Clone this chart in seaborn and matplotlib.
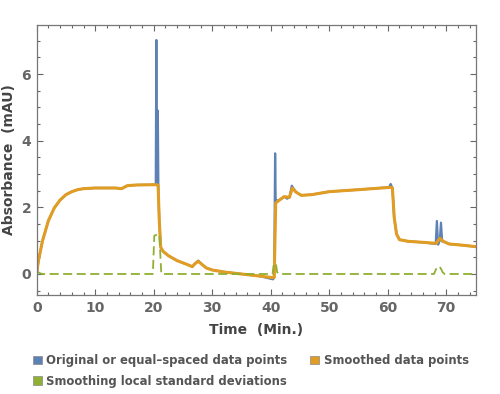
import matplotlib
matplotlib.use("Agg")
import matplotlib.pyplot as plt
import seaborn as sns
import numpy as np
import pandas as pd
from matplotlib.patches import Patch
from matplotlib.ticker import MultipleLocator

# ---- data ----
t_smooth = [0.0, 0.3, 1.0, 2.0, 3.0, 4.0, 5.0, 6.0, 7.0, 8.0, 10.0, 13.5, 14.5, 15.5, 17.0,
            20.5, 20.75, 20.95, 21.2, 21.6, 22.5, 24.0, 25.5, 26.6, 27.0, 27.6, 28.3, 29.0,
            30.0, 32.0, 35.0, 38.0, 40.4, 40.6, 40.85, 41.5, 42.3, 43.2, 43.7, 44.3, 45.2,
            47.0, 50.0, 55.0, 60.5, 60.8, 61.1, 61.5, 62.0, 63.5, 66.0, 68.3, 68.9, 69.5,
            70.5, 73.0, 75.0]
y_smooth = [0.05, 0.4, 1.0, 1.6, 1.98, 2.22, 2.38, 2.47, 2.53, 2.56, 2.58, 2.58, 2.56, 2.65, 2.67,
            2.68, 2.66, 1.6, 0.8, 0.68, 0.55, 0.40, 0.30, 0.22, 0.30, 0.38, 0.28, 0.18,
            0.12, 0.06, 0.0, -0.06, -0.11, -0.10, 2.13, 2.22, 2.32, 2.30, 2.58, 2.46, 2.36,
            2.38, 2.47, 2.53, 2.60, 2.58, 1.7, 1.2, 1.03, 0.98, 0.95, 0.92, 1.07, 0.98,
            0.90, 0.86, 0.82]

t_orig = [0.0, 0.3, 1.0, 2.0, 3.0, 4.0, 5.0, 6.0, 7.0, 8.0, 10.0, 13.5, 14.5, 15.5, 17.0,
          20.35, 20.45, 20.55, 20.7, 20.8, 20.95, 21.2, 21.6, 22.5, 24.0, 25.5, 26.6, 27.0,
          27.6, 28.3, 29.0, 30.0, 32.0, 35.0, 38.0, 40.4, 40.6, 40.75, 40.85, 40.95, 41.5,
          42.3, 42.8, 43.2, 43.6, 44.3, 45.2, 47.0, 50.0, 55.0, 60.2, 60.5, 60.8, 61.1,
          61.5, 62.0, 63.5, 66.0, 68.2, 68.4, 68.6, 68.9, 69.1, 69.3, 69.7, 70.5, 73.0, 75.0]
y_orig = [0.0, 0.4, 1.0, 1.6, 1.98, 2.22, 2.38, 2.47, 2.53, 2.56, 2.58, 2.58, 2.56, 2.65, 2.67,
          2.68, 7.02, 2.7, 4.9, 2.5, 1.6, 0.8, 0.68, 0.55, 0.40, 0.30, 0.22, 0.30,
          0.40, 0.28, 0.18, 0.12, 0.06, 0.0, -0.06, -0.16, -0.10, 3.62, 2.1, 2.2, 2.22,
          2.32, 2.26, 2.30, 2.65, 2.46, 2.36, 2.38, 2.47, 2.53, 2.60, 2.70, 2.58, 1.7,
          1.2, 1.03, 0.98, 0.95, 0.90, 1.59, 0.88, 1.0, 1.54, 0.98, 0.96, 0.90, 0.86, 0.82]

t_std = [0.0, 0.6, 1.0, 19.85, 20.1, 20.95, 21.15, 21.3, 40.3, 40.55, 40.9, 41.1, 41.4,
         67.9, 68.4, 68.9, 69.4, 69.7, 75.0]
y_std = [0.08, 0.02, 0.0, 0.0, 1.15, 1.2, 0.5, 0.0, 0.0, 0.32, 0.3, 0.05, 0.0,
         0.0, 0.2, 0.22, 0.05, 0.0, 0.0]

labels = ["Original or equal\u2013spaced data points", "Smoothed data points",
          "Smoothing local standard deviations"]
colors = ["#5E81B5", "#E19C24", "#8FB032"]

# ---- plot ----
sns.set_style("white")
plt.rcParams['font.family'] = ['DejaVu Sans']

fig = plt.figure(figsize=(5.0, 3.94), dpi=100)
ax = fig.add_axes([0.0734, 0.2513, 0.8776, 0.6852])

sns.lineplot(x=t_orig, y=y_orig, color=colors[0], lw=1.6, ax=ax, sort=False, estimator=None)
sns.lineplot(x=t_smooth, y=y_smooth, color=colors[1], lw=2.2, ax=ax, sort=False, estimator=None)
sns.lineplot(x=t_std, y=y_std, color=colors[2], lw=1.3, ax=ax, sort=False, estimator=None,
             linestyle=(0, (5, 2.5)))

ax.set_xlim(0, 75)
ax.set_ylim(-0.63, 7.47)
ax.xaxis.set_major_locator(MultipleLocator(10))
ax.xaxis.set_minor_locator(MultipleLocator(2))
ax.yaxis.set_major_locator(MultipleLocator(2))
ax.yaxis.set_minor_locator(MultipleLocator(0.5))
ax.tick_params(which='both', direction='in', top=True, right=True, left=True, bottom=True,
               color='#666666', width=0.8)
ax.tick_params(which='major', length=4, labelsize=10, labelcolor='#666666', pad=4)
ax.tick_params(which='minor', length=2)
for lab in ax.get_xticklabels() + ax.get_yticklabels():
    lab.set_fontweight('bold')
for s in ax.spines.values():
    s.set_color('#777777')
    s.set_linewidth(0.9)

ax.set_xlabel("Time  (Min.)", fontsize=10, fontweight='bold', color='#444444', labelpad=6)
ax.set_ylabel("Absorbance  (mAU)", fontsize=10, fontweight='bold', color='#444444', labelpad=4)

handles = [Patch(facecolor=c, edgecolor='#888888', linewidth=0.5) for c in colors]
order = [0, 2, 1]
leg = fig.legend([handles[i] for i in order], [labels[i] for i in order],
                 loc='upper left', bbox_to_anchor=(0.045, 0.128), ncol=2, frameon=False,
                 handlelength=0.75, handleheight=0.75, handletextpad=0.4,
                 columnspacing=1.95, labelspacing=0.65,
                 prop={'size': 8.4, 'weight': 'bold'}, labelcolor='#555555')

fig.savefig("out.png", dpi=100)
